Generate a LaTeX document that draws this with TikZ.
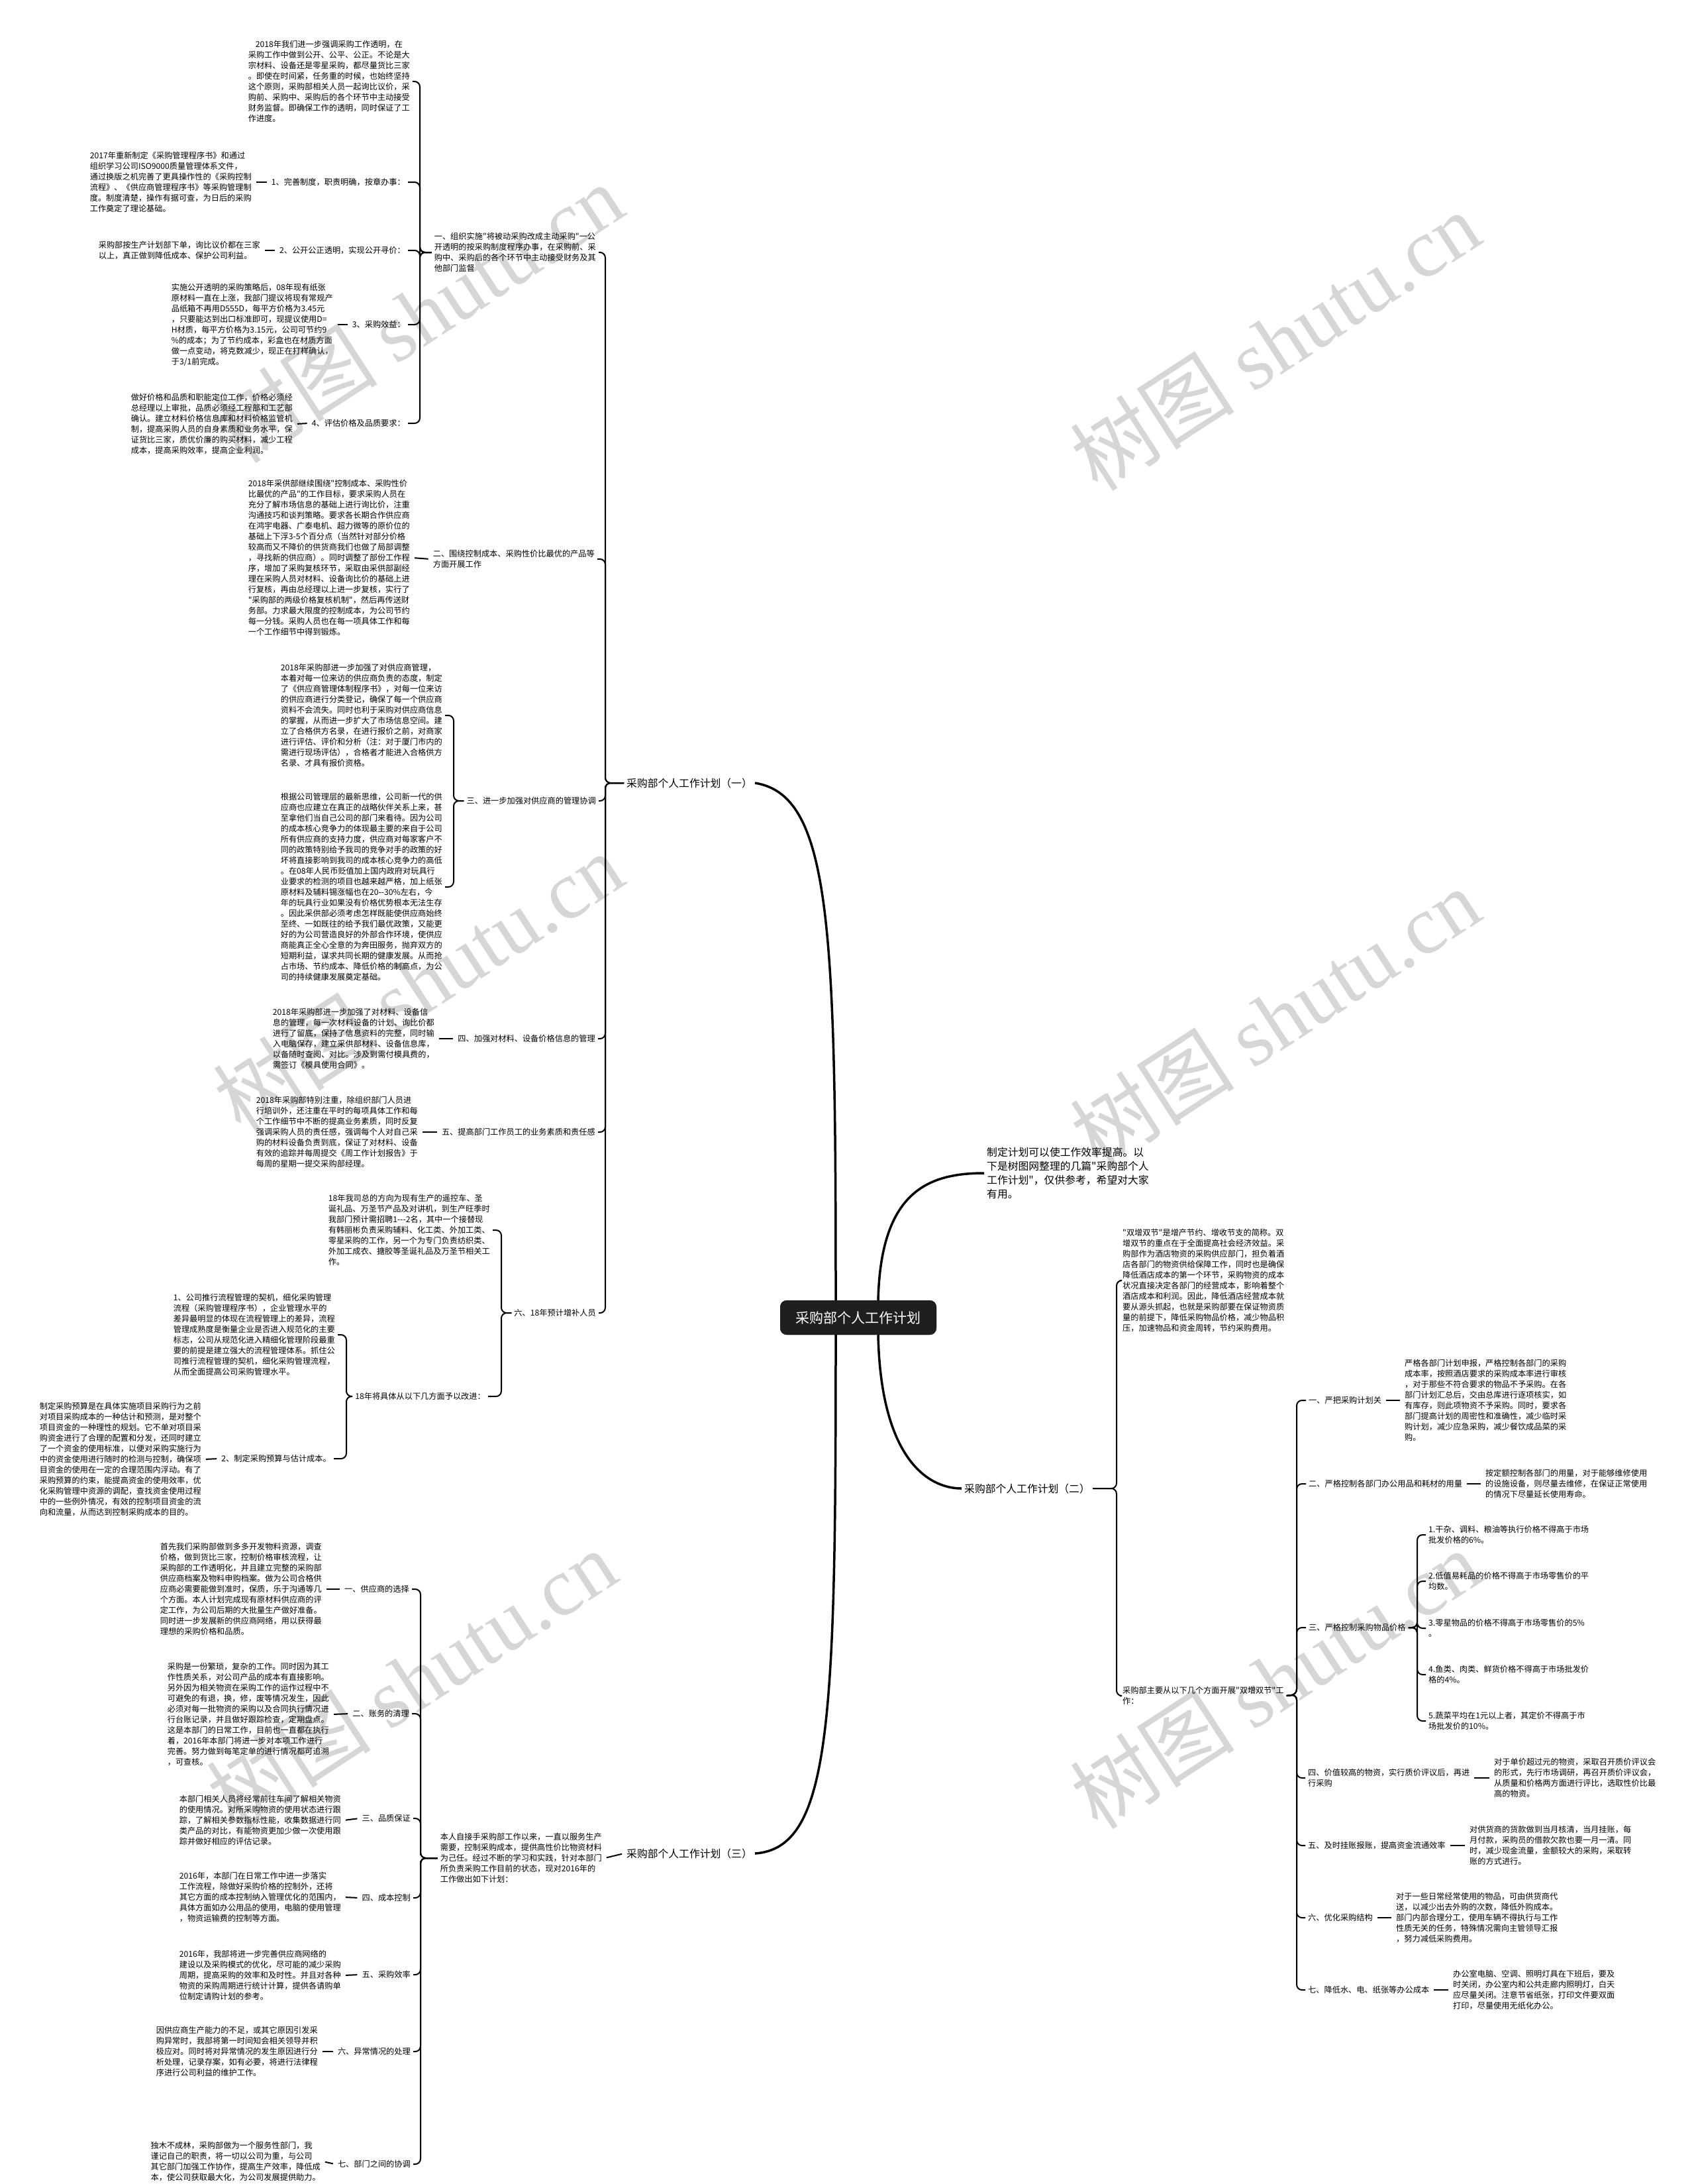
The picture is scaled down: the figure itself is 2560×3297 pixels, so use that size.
\documentclass[tikz,border=0pt]{standalone}
\usepackage{fontspec}
\newfontfamily\cjk{Noto Sans CJK SC}
\newfontfamily\wmlatin{Liberation Serif}
\begin{document}
\begin{tikzpicture}[x=1pt, y=-1pt,
  txt/.style={align=left, inner xsep=4pt, inner ysep=1pt, font=\cjk\fontsize{12.2}{16}\selectfont},
  lt/.style={txt, anchor=east},
  rt/.style={txt, anchor=west},
  lead/.style={font=\cjk\fontsize{15.8}{21}\selectfont},
  root/.style={fill=black!88, text=white, rounded corners=10pt, minimum width=236pt, minimum height=52pt, font=\cjk\fontsize{21}{24}\selectfont},
  lnk/.style={line width=2pt, shorten <=3pt, shorten >=3pt},
  brc/.style={line width=2pt, rounded corners=8pt},
  trunk/.style={line width=3.5pt},
  wmk/.style={text=black, text opacity=.16, rotate=33, font=\cjk\fontsize{125}{125}\selectfont}]
\fill[white] (0,0) rectangle (2560,3297);
\useasboundingbox (0,0) rectangle (2560,3297);

% centre and main branches
\node[root] (cn) at (1296,1989) {采购部个人工作计划};
\node[lt, lead] (br1) at (1140,1182) {采购部个人工作计划（一）};
\node[rt, lead] (i0) at (1486,1771) {制定计划可以使工作效率提高。以\\下是树图网整理的几篇"采购部个人\\工作计划"，仅供参考，希望对大家\\有用。};
\node[rt, lead] (br2) at (1452,2247) {采购部个人工作计划（二）};
\node[lt, lead] (br3) at (1140,2798) {采购部个人工作计划（三）};

% (一)
\node[lt] (a0) at (623,123) {\hspace*{.9em}2018年我们进一步强调采购工作透明，在\\采购工作中做到公开、公平、公正。不论是大\\宗材料、设备还是零星采购，都尽量货比三家\\。即使在时间紧，任务重的时候，也始终坚持\\这个原则，采购部相关人员一起询比议价，采\\购前、采购中、采购后的各个环节中主动接受\\财务监督。即确保工作的透明，同时保证了工\\作进度。};
\node[lt] (a1l) at (616,275) {1、完善制度，职责明确，按章办事：};
\node[lt] (a1t) at (384,275) {2017年重新制定《采购管理程序书》和通过\\组织学习公司ISO9000质量管理体系文件，\\通过换版之机完善了更具操作性的《采购控制\\流程》、《供应商管理程序书》等采购管理制\\度。制度清楚，操作有据可查，为日后的采购\\工作奠定了理论基础。};
\node[lt] (a2l) at (616,378) {2、公开公正透明，实现公开寻价：};
\node[lt] (a2t) at (397,378) {采购部按生产计划部下单，询比议价都在三家\\以上，真正做到降低成本、保护公司利益。};
\node[lt] (a3l) at (616,490) {3、采购效益：};
\node[lt] (a3t) at (507,490) {实施公开透明的采购策略后，08年现有纸张\\原材料一直在上涨，我部门提议将现有常规产\\品纸箱不再用D555D，每平方价格为3.45元\\，只要能达到出口标准即可，现提议使用D=\\H材质，每平方价格为3.15元，公司可节约9\\\%的成本；为了节约成本，彩盒也在材质方面\\做一点变动，将克数减少，现正在打样确认，\\于3/1前完成。};
\node[lt] (a4l) at (616,639) {4、评估价格及品质要求：};
\node[lt] (a4t) at (446,640) {做好价格和品质和职能定位工作，价格必须经\\总经理以上审批，品质必须经工程部和工艺部\\确认。建立材料价格信息库和材料价格监管机\\制，提高采购人员的自身素质和业务水平，保\\证货比三家，质优价廉的购买材料，减少工程\\成本，提高采购效率，提高企业利润。};
\node[lt] (b1) at (904,381) {一、组织实施"将被动采购改成主动采购"一公\\开透明的按采购制度程序办事，在采购前、采\\购中、采购后的各个环节中主动接受财务及其\\他部门监督};

\node[lt] (b2) at (902,844) {二、围绕控制成本、采购性价比最优的产品等\\方面开展工作};
\node[lt] (b2t) at (623,842) {2018年采供部继续围绕"控制成本、采购性价\\比最优的产品"的工作目标，要求采购人员在\\充分了解市场信息的基础上进行询比价，注重\\沟通技巧和谈判策略。要求各长期合作供应商\\在鸿宇电器、广泰电机、超力微等的原价位的\\基础上下浮3-5个百分点（当然针对部分价格\\较高而又不降价的供货商我们也做了局部调整\\，寻找新的供应商）。同时调整了部份工作程\\序，增加了采购复核环节，采取由采供部副经\\理在采购人员对材料、设备询比价的基础上进\\行复核，再由总经理以上进一步复核，实行了\\"采购部的两级价格复核机制"，然后再传送财\\务部。力求最大限度的控制成本，为公司节约\\每一分钱。采购人员也在每一项具体工作和每\\一个工作细节中得到锻炼。};

\node[lt] (b3) at (904,1209) {三、进一步加强对供应商的管理协调};
\node[lt] (b3t1) at (672,1080) {2018年采购部进一步加强了对供应商管理，\\本着对每一位来访的供应商负责的态度，制定\\了《供应商管理体制程序书》，对每一位来访\\的供应商进行分类登记，确保了每一个供应商\\资料不会流失。同时也利于采购对供应商信息\\的掌握，从而进一步扩大了市场信息空间。建\\立了合格供方名录，在进行报价之前，对商家\\进行评估、评价和分析（注：对于厦门市内的\\需进行现场评估），合格者才能进入合格供方\\名录、才具有报价资格。};
\node[lt] (b3t2) at (672,1339) {根据公司管理层的最新思维，公司新一代的供\\应商也应建立在真正的战略伙伴关系上来，甚\\至拿他们当自己公司的部门来看待。因为公司\\的成本核心竞争力的体现最主要的来自于公司\\所有供应商的支持力度，供应商对每家客户不\\同的政策特别给予我司的竞争对手的政策的好\\坏将直接影响到我司的成本核心竞争力的高低\\。在08年人民币贬值加上国内政府对玩具行\\业要求的检测的项目也越来越严格，加上纸张\\原材料及辅料锡涨幅也在20-{}-30\%左右，今\\年的玩具行业如果没有价格优势根本无法生存\\。因此采供部必须考虑怎样既能使供应商始终\\至终、一如既往的给予我们最优政策，又能更\\好的为公司营造良好的外部合作环境，使供应\\商能真正全心全意的为奔田服务，抛弃双方的\\短期利益，谋求共同长期的健康发展。从而抢\\占市场、节约成本、降低价格的制高点，为公\\司的持续健康发展奠定基础。};

\node[lt] (b4) at (903,1568) {四、加强对材料、设备价格信息的管理};
\node[lt] (b4t) at (660,1568) {2018年采购部进一步加强了对材料、设备信\\息的管理，每一次材料设备的计划、询比价都\\进行了留底，保持了信息资料的完整，同时输\\入电脑保存，建立采供部材料、设备信息库，\\以备随时查阅、对比。涉及到需付模具费的，\\需签订《模具使用合同》。};
\node[lt] (b5) at (903,1709) {五、提高部门工作员工的业务素质和责任感};
\node[lt] (b5t) at (635,1709) {2018年采购部特别注重，除组织部门人员进\\行培训外，还注重在平时的每项具体工作和每\\个工作细节中不断的提高业务素质，同时反复\\强调采购人员的责任感，强调每个人对自己采\\购的材料设备负责到底，保证了对材料、设备\\有效的追踪并每周提交《周工作计划报告》于\\每周的星期一提交采购部经理。};

\node[lt] (b6) at (904,1982) {六、18年预计增补人员};
\node[lt] (b6t) at (744,1857) {18年我司总的方向为现有生产的遥控车、圣\\诞礼品、万圣节产品及对讲机，到生产旺季时\\我部门预计需招聘1-{}-{}-2名，其中一个接替现\\有韩丽彬负责采购辅料、化工类、外加工类、\\零星采购的工作，另一个为专门负责纺织类、\\外加工成衣、搪胶等圣诞礼品及万圣节相关工\\作。};
\node[lt] (b6s) at (737,2108) {18年将具体从以下几方面予以改进：};
\node[lt] (b6s1) at (510,2015) {1、公司推行流程管理的契机，细化采购管理\\流程（采购管理程序书），企业管理水平的\\差异最明显的体现在流程管理上的差异，流程\\管理成熟度是衡量企业是否进入规范化的主要\\标志，公司从规范化进入精细化管理阶段最重\\要的前提是建立强大的流程管理体系。抓住公\\司推行流程管理的契机，细化采购管理流程，\\从而全面提高公司采购管理水平。};
\node[lt] (b6s2) at (504,2202) {2、制定采购预算与估计成本。};
\node[lt] (b6s2t) at (308,2203) {制定采购预算是在具体实施项目采购行为之前\\对项目采购成本的一种估计和预测，是对整个\\项目资金的一种理性的规划。它不单对项目采\\购资金进行了合理的配置和分发，还同时建立\\了一个资金的使用标准，以便对采购实施行为\\中的资金使用进行随时的检测与控制，确保项\\目资金的使用在一定的合理范围内浮动。有了\\采购预算的约束，能提高资金的使用效率，优\\化采购管理中资源的调配，查找资金使用过程\\中的一些例外情况，有效的控制项目资金的流\\向和流量，从而达到控制采购成本的目的。};

% (二)
\node[rt] (d0) at (1691,1933) {"双增双节"是增产节约、增收节支的简称。双\\增双节的重点在于全面提高社会经济效益。采\\购部作为酒店物资的采购供应部门，担负着酒\\店各部门的物资供给保障工作，同时也是确保\\降低酒店成本的第一个环节，采购物资的成本\\状况直接决定各部门的经营成本，影响着整个\\酒店成本和利润。因此，降低酒店经营成本就\\要从源头抓起，也就是采购部要在保证物资质\\量的前提下，降低采购物品价格，减少物品积\\压，加速物品和资金周转，节约采购费用。};
\node[rt] (d1) at (1691,2560) {采购部主要从以下几个方面开展"双增双节"工\\作：};
\node[rt] (e1) at (1972,2114) {一、严把采购计划关};
\node[rt] (e1t) at (2117,2114) {严格各部门计划申报，严格控制各部门的采购\\成本率，按照酒店要求的采购成本率进行审核\\，对于那些不符合要求的物品不予采购。在各\\部门计划汇总后，交由总库进行逐项核实，如\\有库存，则此项物资不予采购。同时，要求各\\部门提高计划的周密性和准确性，减少临时采\\购计划，减少应急采购，减少餐饮成品菜的采\\购。};
\node[rt] (e2) at (1972,2240) {二、严格控制各部门办公用品和耗材的用量};
\node[rt] (e2t) at (2239,2240) {按定额控制各部门的用量，对于能够维修使用\\的设施设备，则尽量去维修，在保证正常使用\\的情况下尽量延长使用寿命。};
\node[rt] (e3) at (1972,2457) {三、严格控制采购物品价格};
\node[rt] (f1) at (2153,2317) {1.干杂、调料、粮油等执行价格不得高于市场\\批发价格的6\%。};
\node[rt] (f2) at (2153,2387) {2.低值易耗品的价格不得高于市场零售价的平\\均数。};
\node[rt] (f3) at (2153,2458) {3.零星物品的价格不得高于市场零售价的5\%\\。};
\node[rt] (f4) at (2153,2528) {4.鱼类、肉类、鲜货价格不得高于市场批发价\\格的4\%。};
\node[rt] (f5) at (2153,2598) {5.蔬菜平均在1元以上者，其定价不得高于市\\场批发价的10\%。};
\node[rt] (e4) at (1971,2684) {四、价值较高的物资，实行质价评议后，再进\\行采购};
\node[rt] (e4t) at (2252,2684) {对于单价超过元的物资，采取召开质价评议会\\的形式，先行市场调研，再召开质价评议会，\\从质量和价格两方面进行评比，选取性价比最\\高的物资。};
\node[rt] (e5) at (1971,2786) {五、及时挂账报账，提高资金流通效率};
\node[rt] (e5t) at (2215,2786) {对供货商的货款做到当月核清，当月挂账，每\\月付款，采购员的借款欠款也要一月一清。同\\时，减少现金流量，金额较大的采购，采取转\\账的方式进行。};
\node[rt] (e6) at (1971,2895) {六、优化采购结构};
\node[rt] (e6t) at (2104,2895) {对于一些日常经常使用的物品，可由供货商代\\送，以减少出去外购的次数，降低外购成本。\\部门内部合理分工，使用车辆不得执行与工作\\性质无关的任务，特殊情况需向主管领导汇报\\，努力减低采购费用。};
\node[rt] (e7) at (1971,3004) {七、降低水、电、纸张等办公成本};
\node[rt] (e7t) at (2190,3004) {办公室电脑、空调、照明灯具在下班后，要及\\时关闭，办公室内和公共走廊内照明灯，白天\\应尽量关闭。注意节省纸张，打印文件要双面\\打印，尽量使用无纸化办公。};

% (三)
\node[lt] (c0) at (913,2805) {本人自接手采购部工作以来，一直以服务生产\\需要，控制采购成本，提供高性价比物资材料\\为己任。经过不断的学习和实践，针对本部门\\所负责采购工作目前的状态，现对2016年的\\工作做出如下计划：};
\node[lt] (c1) at (622,2399) {一、供应商的选择};
\node[lt] (c1t) at (490,2399) {首先我们采购部做到多多开发物料资源，调查\\价格，做到货比三家，控制价格审核流程，让\\采购部的工作透明化，并且建立完整的采购部\\供应商档案及物料申购档案。做为公司合格供\\应商必需要能做到准时，保质，乐于沟通等几\\个方面。本人计划完成现有原材料供应商的评\\定工作，为公司后期的大批量生产做好准备。\\同时进一步发展新的供应商网络，用以获得最\\理想的采购价格和品质。};
\node[lt] (c2) at (622,2587) {二、账务的清理};
\node[lt] (c2t) at (501,2588) {采购是一份繁琐，复杂的工作。同时因为其工\\作性质关系，对公司产品的成本有直接影响。\\另外因为相关物资在采购工作的运作过程中不\\可避免的有退，换，修，废等情况发生，因此\\必须对每一批物资的采购以及合同执行情况进\\行台账记录，并且做好跟踪检查，定期盘点。\\这是本部门的日常工作，目前也一直都在执行\\着，2016年本部门将进一步对本项工作进行\\完善。努力做到每笔定单的进行情况都可追溯\\，可查核。};
\node[lt] (c3) at (624,2745) {三、品质保证};
\node[lt] (c3t) at (519,2748) {本部门相关人员将经常前往车间了解相关物资\\的使用情况。对所采购物资的使用状态进行跟\\踪，了解相关参数指标性能，收集数据进行同\\类产品的对比，有能物资更加少做一次使用跟\\踪并做好相应的评估记录。};
\node[lt] (c4) at (624,2865) {四、成本控制};
\node[lt] (c4t) at (519,2864) {2016年，本部门在日常工作中进一步落实\\工作流程，除做好采购价格的控制外，还将\\其它方面的成本控制纳入管理优化的范围内，\\具体方面如办公用品的使用，电脑的使用管理\\，物资运输费的控制等方面。};
\node[lt] (c5) at (624,2981) {五、采购效率};
\node[lt] (c5t) at (519,2982) {2016年，我部将进一步完善供应商网络的\\建设以及采购模式的优化，尽可能的减少采购\\周期，提高采购的效率和及时性。并且对各种\\物资的采购周期进行统计计算，提供各请购单\\位制定请购计划的参考。};
\node[lt] (c6) at (624,3097) {六、异常情况的处理};
\node[lt] (c6t) at (484,3097) {因供应商生产能力的不足，或其它原因引发采\\购异常时，我部将第一时间知会相关领导并积\\极应对。同时将对异常情况的发生原因进行分\\析处理，记录存案，如有必要，将进行法律程\\序进行公司利益的维护工作。};
\node[lt] (c7) at (624,3267) {七、部门之间的协调};
\node[lt] (c7t) at (488,3263) {独木不成林，采购部做为一个服务性部门，我\\谨记自己的职责，将一切以公司为重，与公司\\其它部门加强工作协作，提高生产效率，降低成\\本，使公司获取最大化，为公司发展提供助力。};

% brackets
\coordinate (k1) at (634,381);
\coordinate (kb) at (914,1182);
\coordinate (k3) at (685,1209);
\coordinate (k6) at (757,1982);
\coordinate (k6s) at (523,2108);
\coordinate (kd) at (1686,2247);
\coordinate (ke) at (1958,2558);
\coordinate (kf) at (2140,2457);
\coordinate (kc) at (635,2805);
\foreach \c in {a0,a1l,a2l,a3l,a4l} \draw[brc] (\c.east) -| (k1) -- (b1.west);
\foreach \c in {b1,b2,b3,b4,b5,b6} \draw[brc] (\c.east) -| (kb) -- (br1.west);
\foreach \c in {b3t1,b3t2} \draw[brc] (\c.east) -| (k3) -- (b3.west);
\foreach \c in {b6t,b6s} \draw[brc] (\c.east) -| (k6) -- (b6.west);
\foreach \c in {b6s1,b6s2} \draw[brc] (\c.east) -| (k6s) -- (b6s.west);
\foreach \c in {d0,d1} \draw[brc] (\c.west) -| (kd) -- (br2.east);
\foreach \c in {e1,e2,e3,e4,e5,e6,e7} \draw[brc] (\c.west) -| (ke) -- (d1.east);
\foreach \c in {f1,f2,f3,f4,f5} \draw[brc] (\c.west) -| (kf) -- (e3.east);
\foreach \c in {c1,c2,c3,c4,c5,c6,c7} \draw[brc] (\c.east) -| (kc) -- (c0.west);

% single links
\foreach \a/\b in {a1t/a1l,a2t/a2l,a3t/a3l,a4t/a4l,b2t/b2,b4t/b4,b5t/b5,b6s2t/b6s2,c1t/c1,c2t/c2,c3t/c3,c4t/c4,c5t/c5,c6t/c6,c7t/c7,c0/br3}
  \draw[lnk] (\a.east) -- (\b.west);
\foreach \a/\b in {e1/e1t,e2/e2t,e4/e4t,e5/e5t,e6/e6t,e7/e7t}
  \draw[lnk] (\a.east) -- (\b.west);

% trunk
\draw[trunk] ([xshift=-34pt]cn.north) .. controls (1262,1400) and (1255,1200) .. (br1.east);
\draw[trunk] ([xshift=-34pt]cn.south) .. controls (1262,2600) and (1255,2790) .. (br3.east);
\draw[trunk] ([xshift=30pt]cn.north) .. controls (1330,1800) and (1400,1771) .. (i0.west);
\draw[trunk] ([xshift=30pt]cn.south) .. controls (1330,2200) and (1400,2247) .. (br2.west);
\node[root] at (cn) {采购部个人工作计划};

% watermarks
\foreach \p in {(631,473),(1925,515),(631,1483),(1925,1536),(621,2535),(1925,2535)}
  \node[wmk] at \p {树图 {\wmlatin shutu.cn}};
\end{tikzpicture}
\end{document}
